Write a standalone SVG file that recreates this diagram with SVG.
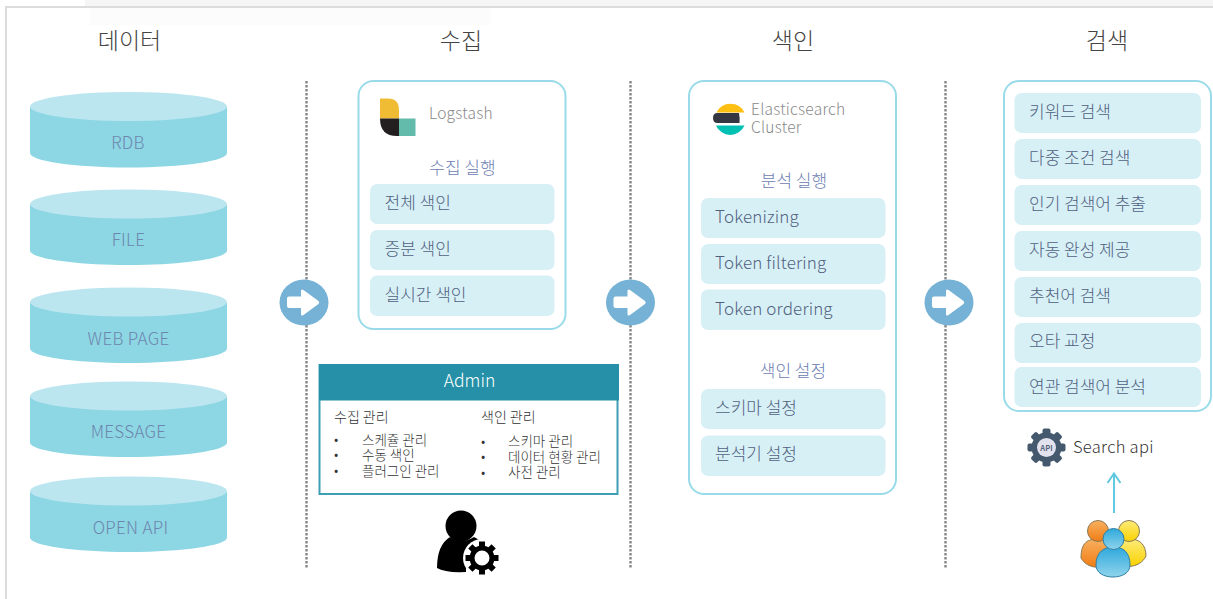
<svg xmlns="http://www.w3.org/2000/svg" width="1213" height="599" viewBox="0 0 1213 599">
<style>
text{font-family:"Noto Sans CJK KR","Noto Sans",sans-serif;font-weight:300}
.h{font-size:23px;fill:#444;text-anchor:middle}
.cyl{font-size:17px;letter-spacing:.3px;fill:#6d86ad;text-anchor:middle}
.side{fill:#8dd6e4}
.top{fill:#bce6ef}
.panel{fill:#fff;stroke:#9adbe9;stroke-width:2}
.item{fill:#d7f0f6}
.it{font-size:17px;fill:#51617f}
.lat{letter-spacing:.15px}
.sec{font-size:17px;fill:#6d80b2;text-anchor:middle}
.logo{font-size:15.500px;letter-spacing:.25px;fill:#888}
.adm{font-size:14px;fill:#333}
.sm{font-size:13.500px;fill:#333}
.div{stroke:#8a8a8a;stroke-width:2.500;stroke-dasharray:2.500 1.500;fill:none}
</style>
<defs>
<g id="cyl"><path class="side" d="M30 15V61C30 69 74 75.500 128.500 75.500S227 69 227 61V15Z"/><ellipse class="top" cx="128.500" cy="14.500" rx="98.500" ry="14.500"/></g>
<g id="arrow"><ellipse rx="24.500" ry="23" fill="#75b2d5"/><path d="M-15 -6H-3V-11.500Q-3 -14 -0.500 -12.500L14.500 -1.500Q16 0 14.500 1.500L-0.500 12.500Q-3 14 -3 11.500V5.500H-15Q-17 5.500 -17 3.500V-4Q-17 -6 -15 -6Z" fill="#fff"/></g>
<linearGradient id="gO" x1="0" y1="0" x2="0" y2="1"><stop offset="0" stop-color="#f8b060"/><stop offset="1" stop-color="#f07d14"/></linearGradient>
<linearGradient id="gY" x1="0" y1="0" x2="0" y2="1"><stop offset="0" stop-color="#fdeb7a"/><stop offset="1" stop-color="#fad200"/></linearGradient>
<linearGradient id="gB" x1="0" y1="0" x2="0" y2="1"><stop offset="0" stop-color="#2fa8dc"/><stop offset="1" stop-color="#8fd4ec"/></linearGradient>
</defs>
<rect width="1213" height="599" fill="#fff"/>
<rect x="85" y="0" width="1128" height="6" fill="#f5f5f5"/>
<rect x="90" y="8" width="400" height="17" fill="#fcfcfc"/>
<path d="M6 599V7H1213" fill="none" stroke="#dcdcdc" stroke-width="2"/>

<g id="connectors">
<path class="div" d="M306.500 81V569"/>
<path class="div" d="M630.500 81V569"/>
<path class="div" d="M945.500 81V569"/>
<use href="#arrow" x="304" y="302.500"/>
<use href="#arrow" x="630.500" y="302.500"/>
<use href="#arrow" x="949" y="302.500"/>
<path d="M1114 513V473M1107.500 483L1114 473.500L1120.500 483" fill="none" stroke="#63c9e0" stroke-width="2"/>
</g>

<g id="head-data"><text class="h" x="129.500" y="49">데이터</text></g>
<g id="head-collect"><text class="h" x="461" y="49">수집</text></g>
<g id="head-index"><text class="h" x="793" y="49">색인</text></g>
<g id="head-search"><text class="h" x="1107" y="49">검색</text></g>

<g id="rdb"><use href="#cyl" y="92"/><text class="cyl" x="128" y="148.500">RDB</text></g>
<g id="file"><use href="#cyl" y="189.500"/><text class="cyl" x="128.500" y="245.500">FILE</text></g>
<g id="webpage"><use href="#cyl" y="287.500"/><text class="cyl" x="128.500" y="344.500">WEB PAGE</text></g>
<g id="message"><use href="#cyl" y="381.500"/><text class="cyl" x="128.500" y="438">MESSAGE</text></g>
<g id="openapi"><use href="#cyl" y="476.500"/><text class="cyl" x="130.500" y="533.500">OPEN API</text></g>

<g id="logstash">
<rect class="panel" x="358.500" y="81" width="207" height="248" rx="15"/>
<path d="M380 98.500H388Q399 98.500 399 110V118.500H380Z" fill="#f0bc33"/>
<path d="M380 118.500H399V136H397Q380 136 380 118.500Z" fill="#231f20"/>
<rect x="399" y="118.500" width="16.500" height="17.500" fill="#62bbab"/>
<text class="logo" x="429" y="119">Logstash</text>
<text class="sec" x="462.500" y="174">수집 실행</text>
<rect class="item" x="370" y="184" width="184.500" height="40" rx="7"/>
<rect class="item" x="370" y="230" width="184.500" height="40" rx="7"/>
<rect class="item" x="370" y="275.500" width="184.500" height="40.500" rx="7"/>
<text class="it" x="384.500" y="208.500">전체 색인</text>
<text class="it" x="384.500" y="254.500">증분 색인</text>
<text class="it" x="384.500" y="300.500">실시간 색인</text>
</g>

<g id="admin">
<rect x="319.500" y="365" width="298" height="129" fill="#fff" stroke="#3e9fb4" stroke-width="2"/>
<rect x="319" y="364" width="300" height="36.500" fill="#2590a7"/>
<text x="469.500" y="386.500" font-size="17.500" fill="#fff" text-anchor="middle">Admin</text>
<text class="adm" x="334" y="422">수집 관리</text>
<text class="adm" x="481" y="422">색인 관리</text>
<text class="sm" x="334" y="444">•</text><text class="sm" x="362" y="445">스케쥴 관리</text>
<text class="sm" x="334" y="459">•</text><text class="sm" x="362" y="460">수동 색인</text>
<text class="sm" x="334" y="475">•</text><text class="sm" x="362" y="476">플러그인 관리</text>
<text class="sm" x="481" y="446">•</text><text class="sm" x="508" y="446">스키마 관리</text>
<text class="sm" x="481" y="461">•</text><text class="sm" x="508" y="462">데이터 현황 관리</text>
<text class="sm" x="481" y="477">•</text><text class="sm" x="508" y="477">사전 관리</text>
</g>

<g id="admin-user">
<circle cx="461" cy="526" r="15.500"/>
<path d="M450 537Q461 545 474 537L488 545L466 560V572Q445 573 437 568Q437 545 450 537Z"/>
<g transform="translate(482 558)">
<circle r="19" fill="#fff"/>
<circle r="10" fill="#fff" stroke="#000" stroke-width="5"/>
<g>
<path id="gt" d="M-3 -16.500H3V-11H-3Z M-3 11H3V16.500H-3Z"/>
<use href="#gt" transform="rotate(45)"/>
<use href="#gt" transform="rotate(90)"/>
<use href="#gt" transform="rotate(135)"/>
</g>
</g>
</g>

<g id="elasticsearch">
<rect class="panel" x="689" y="81" width="207" height="413" rx="15"/>
<path d="M716.500 112.500A15.500 15.500 0 0 1 744.500 112.500Z" fill="#fdc012"/>
<path d="M716 113H739Q740 118 739.500 123H717.500Q713 123 713 118Q713 113 717.500 113Z" fill="#343741"/>
<path d="M716 125.500H744.500A15.500 15.500 0 0 1 716 125.500Z" fill="#00bfb3"/>
<text class="logo" x="751" y="115">Elasticsearch</text>
<text class="logo" x="751" y="133">Cluster</text>
<text class="sec" x="794" y="186.500">분석 실행</text>
<rect class="item" x="701" y="198" width="184.500" height="40" rx="7"/>
<rect class="item" x="701" y="244" width="184.500" height="40" rx="7"/>
<rect class="item" x="701" y="289.500" width="184.500" height="40.500" rx="7"/>
<text class="it lat" x="715" y="222.500">Tokenizing</text>
<text class="it lat" x="715" y="268.500">Token filtering</text>
<text class="it lat" x="715" y="314.500">Token ordering</text>
<text class="sec" x="793" y="376.500">색인 설정</text>
<rect class="item" x="701" y="389" width="184.500" height="40" rx="7"/>
<rect class="item" x="701" y="435.500" width="184.500" height="40.500" rx="7"/>
<text class="it" x="715" y="413.500">스키마 설정</text>
<text class="it" x="715" y="459.500">분석기 설정</text>
</g>

<g id="search">
<rect class="panel" x="1004" y="81" width="207" height="330" rx="15"/>
<rect class="item" x="1014.500" y="93" width="186.500" height="40" rx="7"/>
<rect class="item" x="1014.500" y="139" width="186.500" height="40" rx="7"/>
<rect class="item" x="1014.500" y="185" width="186.500" height="40" rx="7"/>
<rect class="item" x="1014.500" y="231" width="186.500" height="40" rx="7"/>
<rect class="item" x="1014.500" y="277" width="186.500" height="40" rx="7"/>
<rect class="item" x="1014.500" y="323" width="186.500" height="40" rx="7"/>
<rect class="item" x="1014.500" y="367" width="186.500" height="40" rx="7"/>
<text class="it" x="1029" y="117.500">키워드 검색</text>
<text class="it" x="1029" y="163.500">다중 조건 검색</text>
<text class="it" x="1029" y="209.500">인기 검색어 추출</text>
<text class="it" x="1029" y="255.500">자동 완성 제공</text>
<text class="it" x="1029" y="301.500">추천어 검색</text>
<text class="it" x="1029" y="346.500">오타 교정</text>
<text class="it" x="1029" y="392.500">연관 검색어 분석</text>
</g>

<g id="search-api">
<g transform="translate(1046.500 447.500)">
<circle r="15" fill="#44596e"/>
<g fill="#44596e">
<rect x="-4" y="-19" width="8" height="38" rx="2"/>
<rect x="-4" y="-19" width="8" height="38" rx="2" transform="rotate(45)"/>
<rect x="-4" y="-19" width="8" height="38" rx="2" transform="rotate(90)"/>
<rect x="-4" y="-19" width="8" height="38" rx="2" transform="rotate(135)"/>
</g>
<circle r="9.500" fill="#e3e3ef"/>
<text y="3" font-size="7.500" style="font-weight:700" fill="#55657c" text-anchor="middle">API</text>
</g>
<text x="1073" y="453" font-size="16.500" letter-spacing=".3" fill="#333">Search api</text>
</g>

<g id="users">
<g stroke="#8a7a55" stroke-width="1">
<path d="M1081 558C1081 542 1088 539 1098 539C1106 539 1115 545 1115 560C1105 570 1088 570 1081 558Z" fill="url(#gO)"/>
<circle cx="1098" cy="531" r="10.500" fill="url(#gO)"/>
<path d="M1112 558C1112 542 1122 539 1130 539C1140 539 1146 545 1146 556C1140 569 1120 570 1112 558Z" fill="url(#gY)"/>
<circle cx="1129" cy="531" r="10.500" fill="url(#gY)"/>
</g>
<g stroke="#2f7fa3" stroke-width="1">
<path d="M1096 565C1096 552 1104 547 1113.500 547C1123 547 1130 552 1130 565C1130 573 1122 577 1113 577C1104 577 1096 573 1096 565Z" fill="url(#gB)"/>
<circle cx="1113.500" cy="539" r="10.500" fill="url(#gB)"/>
</g>
</g>
</svg>
